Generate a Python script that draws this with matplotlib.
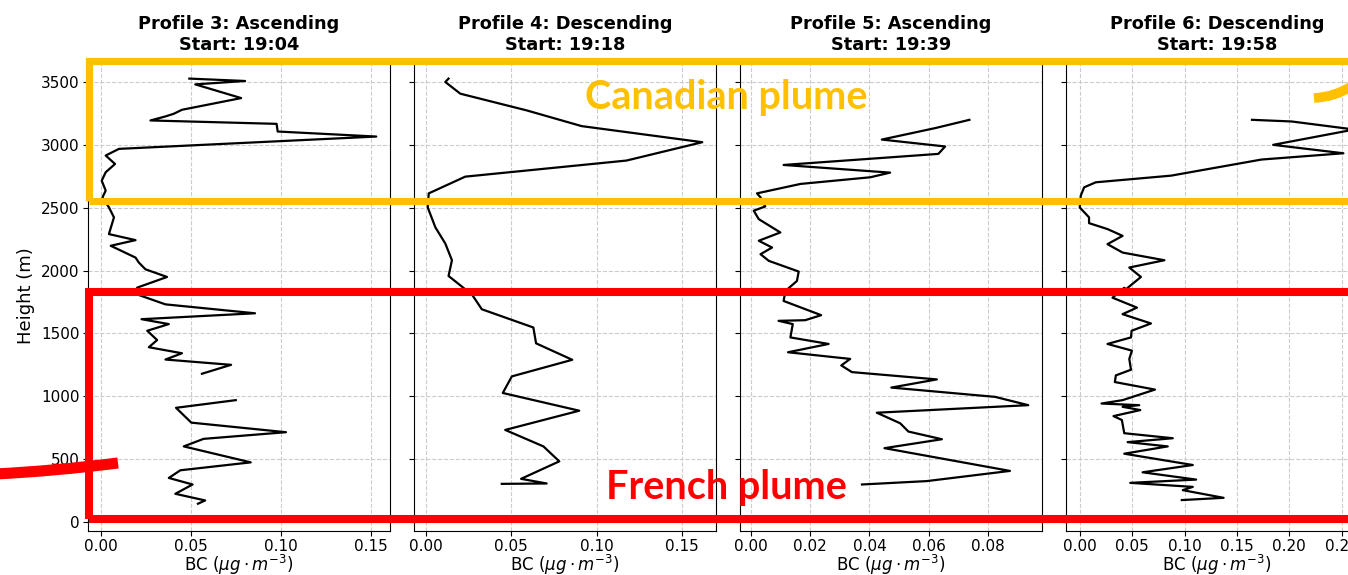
import matplotlib.pyplot as plt
import matplotlib.patches as mpatches
from matplotlib.path import Path
import numpy as np

# BC concentration (ug/m3) vs height (m)
p3_bc = [0.0489, 0.0799, 0.0522, 0.0777, 0.0448, 0.0402, 0.0356, 0.0273, 0.0974, 0.0980,
         0.1528, 0.0098, 0.0024, 0.0076, 0.0024, 0.0002, 0.0024, 0.0006, 0.0042, 0.0070,
         0.0042, 0.0190, 0.0052, 0.0190, 0.0208, 0.0245, 0.0365, 0.0199, 0.0199, 0.0356,
         0.0854, 0.0223, 0.0375, 0.0255, 0.0310, 0.0264, 0.0448, 0.0356, 0.0721, 0.0559,
         np.nan, 0.0747, 0.0415, 0.0500, 0.1026, 0.0568, 0.0458, 0.0830, 0.0439, 0.0375,
         0.0507, 0.0411, 0.0577, 0.0537]
p3_h = [3527, 3508, 3481, 3372, 3279, 3247, 3226, 3194, 3167, 3106,
        3066, 2968, 2915, 2848, 2782, 2715, 2636, 2582, 2503, 2423,
        2290, 2242, 2197, 2103, 2064, 2010, 1949, 1864, 1810, 1731,
        1660, 1613, 1574, 1521, 1447, 1390, 1342, 1292, 1250, 1179,
        1070, 969, 908, 790, 714, 661, 601, 474, 411, 350,
        298, 224, 171, 145]

p4_bc = [0.0132, 0.0113, 0.0201, 0.0590, 0.0912, 0.1619, 0.1175, 0.0230, 0.0016, 0.0010,
         0.0055, 0.0113, 0.0152, 0.0132, 0.0230, 0.0269, 0.0327, 0.0629, 0.0645, 0.0857,
         0.0503, 0.0450, 0.0898, 0.0464, 0.0688, 0.0781, 0.0557, 0.0707, 0.0444]
p4_h = [3527, 3500, 3407, 3274, 3149, 3021, 2875, 2747, 2614, 2502,
        2343, 2215, 2082, 1957, 1851, 1810, 1692, 1547, 1421, 1290,
        1158, 1026, 885, 732, 601, 482, 343, 306, 303]

p5_bc = [0.0738, 0.0622, 0.0442, 0.0656, 0.0633, 0.0110, 0.0470, 0.0403, 0.0167, 0.0020,
         0.0032, 0.0048, 0.0009, 0.0026, 0.0099, 0.0026, 0.0071, 0.0032, 0.0060, 0.0161,
         0.0155, 0.0116, 0.0110, 0.0237, 0.0183, 0.0093, 0.0141, 0.0133, 0.0262, 0.0125,
         0.0335, 0.0305, 0.0341, 0.0628, 0.0474, 0.0825, 0.0937, 0.0425, 0.0504, 0.0532,
         0.0645, 0.0451, 0.0875, 0.0594, 0.0375]
p5_h = [3199, 3133, 3042, 2987, 2928, 2840, 2779, 2742, 2689, 2614,
        2582, 2510, 2476, 2409, 2303, 2237, 2183, 2130, 2077, 1992,
        1917, 1837, 1758, 1645, 1605, 1600, 1574, 1468, 1416, 1350,
        1297, 1245, 1192, 1134, 1069, 995, 929, 869, 785, 719,
        658, 587, 406, 325, 298]

p6_bc = [0.1644, 0.2021, 0.2620, 0.1846, 0.2516, 0.1734, 0.0872, 0.0153, 0.0042, 0.0010,
         0.0000, 0.0089, 0.0089, 0.0265, 0.0409, 0.0265, 0.0409, 0.0808, 0.0473, 0.0584,
         0.0441, 0.0425, 0.0313, 0.0546, 0.0409, 0.0680, 0.0495, 0.0489, 0.0265, 0.0498,
         0.0473, 0.0489, 0.0345, 0.0335, 0.0718, 0.0409, 0.0208, 0.0568, 0.0409, 0.0578,
         0.0322, 0.0402, 0.0425, 0.0888, 0.0457, 0.0840, 0.0425, 0.1079, 0.0600, 0.1111,
         0.0482, 0.1079, 0.0983, 0.1373, 0.0974]
p6_h = [3199, 3186, 3122, 3000, 2933, 2883, 2755, 2702, 2662, 2596,
        2502, 2423, 2377, 2330, 2276, 2210, 2143, 2082, 2024, 1949,
        1851, 1863, 1784, 1705, 1653, 1579, 1521, 1468, 1416, 1363,
        1297, 1211, 1166, 1113, 1053, 969, 942, 929, 916, 890,
        842, 811, 706, 666, 635, 601, 543, 453, 395, 337,
        311, 279, 253, 192, 174]

titles = ['Profile 3: Ascending\nStart: 19:04', 'Profile 4: Descending\nStart: 19:18',
          'Profile 5: Ascending\nStart: 19:39', 'Profile 6: Descending\nStart: 19:58']
x_ticks = [[0, 0.05, 0.10, 0.15], [0, 0.05, 0.10, 0.15],
           [0, 0.02, 0.04, 0.06, 0.08], [0, 0.05, 0.10, 0.15, 0.20, 0.25]]
profiles = [(p3_bc, p3_h), (p4_bc, p4_h), (p5_bc, p5_h), (p6_bc, p6_h)]

W, H = 1348, 575
fig = plt.figure(figsize=(W / 100, H / 100), dpi=100)


def fx(x):
    return x / W


def fy(y):
    return 1 - y / H


axes = []
for i, (bc, h) in enumerate(profiles):
    left = 88 + i * 326
    ax = fig.add_axes([fx(left), fy(531), 302 / W, (531 - 61) / H],
                      sharey=axes[0] if axes else None)
    ax.plot(bc, h, color='black', lw=1.6)
    ax.set_ylim(-72, 3667)
    ax.set_xticks(x_ticks[i])
    ax.set_xticklabels(['%.2f' % t for t in x_ticks[i]])
    ax.set_yticks(np.arange(0, 3501, 500))
    ax.grid(True, linestyle='--', color='#cccccc', lw=0.8)
    ax.tick_params(labelsize=11, pad=2.5)
    ax.set_title(titles[i], fontsize=12.8, fontweight='bold', pad=8)
    ax.set_xlabel(r'BC ($\mu g \cdot m^{-3}$)', fontsize=12, labelpad=-1.2)
    if i > 0:
        plt.setp(ax.get_yticklabels(), visible=False)
    else:
        ax.set_ylabel('Height (m)', fontsize=13, labelpad=4)
    axes.append(ax)

# hand-drawn highlight boxes on top of the panels
yellow = '#FFC000'
red = '#FF0000'
fig.add_artist(mpatches.Rectangle((fx(88.5), fy(201)), fx(1400 - 88.5), (201 - 61) / H,
                                  fill=False, ec=yellow, lw=5.2, transform=fig.transFigure))
fig.add_artist(mpatches.Rectangle((fx(88.5), fy(519)), fx(1400 - 88.5), (519 - 292) / H,
                                  fill=False, ec=red, lw=5.8, transform=fig.transFigure))

arc_red = Path([(fx(-5), fy(474)), (fx(55), fy(471)), (fx(118), fy(463))],
               [Path.MOVETO, Path.CURVE3, Path.CURVE3])
fig.add_artist(mpatches.PathPatch(arc_red, fill=False, ec=red, lw=8, capstyle='butt',
                                  transform=fig.transFigure))
arc_yel = Path([(fx(1314), fy(98)), (fx(1335), fy(97)), (fx(1352), fy(86))],
               [Path.MOVETO, Path.CURVE3, Path.CURVE3])
fig.add_artist(mpatches.PathPatch(arc_yel, fill=False, ec=yellow, lw=7, capstyle='butt',
                                  transform=fig.transFigure))

fig.text(fx(726), fy(97), 'Canadian plume', color=yellow, fontsize=28.5, fontweight='bold',
         family='Lato', ha='center', va='center')
fig.text(fx(726), fy(487), 'French plume', color=red, fontsize=28.5, fontweight='bold',
         family='Lato', ha='center', va='center')

fig.savefig('out.png', dpi=100)
